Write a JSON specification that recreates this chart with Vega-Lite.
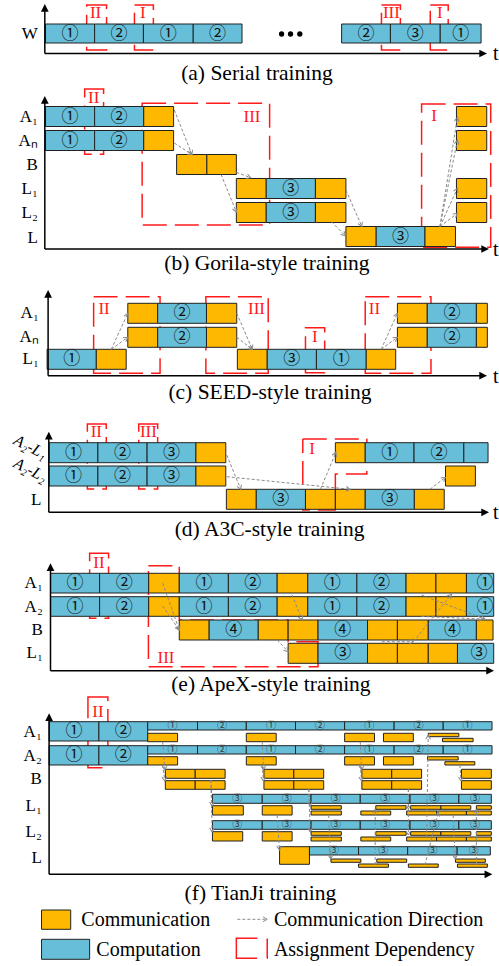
{
  "$schema": "https://vega.github.io/schema/vega-lite/v6.json",
  "width": 499,
  "height": 966,
  "padding": 0,
  "autosize": {"type": "fit", "contains": "padding"},
  "background": "white",
  "config": {"view": {"stroke": null}},
  "datasets": {
    "boxes": [
      {"t":45.7,"t1":95,"y":24,"y1":43,"k":"comp"},{"t":95,"t1":144,"y":24,"y1":43,"k":"comp"},{"t":144,"t1":194,"y":24,"y1":43,"k":"comp"},{"t":194,"t1":243,"y":24,"y1":43,"k":"comp"},{"t":343,"t1":392,"y":24,"y1":43,"k":"comp"},{"t":392,"t1":442,"y":24,"y1":43,"k":"comp"},{"t":442,"t1":483,"y":24,"y1":43,"k":"comp"},

      {"t":45.7,"t1":95,"y":106.5,"y1":126.5,"k":"comp"},{"t":95,"t1":144.3,"y":106.5,"y1":126.5,"k":"comp"},{"t":144.3,"t1":174.3,"y":106.5,"y1":126.5,"k":"comm"},{"t":458.3,"t1":488.7,"y":106.5,"y1":126.5,"k":"comm"},
      {"t":45.7,"t1":95,"y":130.5,"y1":150.5,"k":"comp"},{"t":95,"t1":144.3,"y":130.5,"y1":150.5,"k":"comp"},{"t":144.3,"t1":174.3,"y":130.5,"y1":150.5,"k":"comm"},{"t":458.3,"t1":488.7,"y":130.5,"y1":150.5,"k":"comm"},
      {"t":177.3,"t1":207.7,"y":154.5,"y1":174.5,"k":"comm"},{"t":207.7,"t1":237.3,"y":154.5,"y1":174.5,"k":"comm"},
      {"t":237.3,"t1":267.3,"y":178.5,"y1":198.5,"k":"comm"},{"t":267.3,"t1":316.7,"y":178.5,"y1":198.5,"k":"comp"},{"t":316.7,"t1":347.3,"y":178.5,"y1":198.5,"k":"comm"},{"t":458.3,"t1":488.7,"y":178.5,"y1":198.5,"k":"comm"},
      {"t":237.3,"t1":267.3,"y":202.5,"y1":222.5,"k":"comm"},{"t":267.3,"t1":316.7,"y":202.5,"y1":222.5,"k":"comp"},{"t":316.7,"t1":347.3,"y":202.5,"y1":222.5,"k":"comm"},{"t":458.3,"t1":488.7,"y":202.5,"y1":222.5,"k":"comm"},
      {"t":347.3,"t1":377.7,"y":226.5,"y1":246.5,"k":"comm"},{"t":377.7,"t1":426.7,"y":226.5,"y1":246.5,"k":"comp"},{"t":426.7,"t1":457.3,"y":226.5,"y1":246.5,"k":"comm"},

      {"t":128.3,"t1":158.3,"y":303.3,"y1":323.3,"k":"comm"},{"t":158.3,"t1":207.3,"y":303.3,"y1":323.3,"k":"comp"},{"t":207.3,"t1":237.7,"y":303.3,"y1":323.3,"k":"comm"},{"t":399,"t1":429,"y":303.3,"y1":323.3,"k":"comm"},{"t":429,"t1":478.3,"y":303.3,"y1":323.3,"k":"comp"},{"t":478.3,"t1":489.3,"y":303.3,"y1":323.3,"k":"comm"},
      {"t":128.3,"t1":158.3,"y":327.3,"y1":347.3,"k":"comm"},{"t":158.3,"t1":207.3,"y":327.3,"y1":347.3,"k":"comp"},{"t":207.3,"t1":237.7,"y":327.3,"y1":347.3,"k":"comm"},{"t":399,"t1":429,"y":327.3,"y1":347.3,"k":"comm"},{"t":429,"t1":478.3,"y":327.3,"y1":347.3,"k":"comp"},{"t":478.3,"t1":489.3,"y":327.3,"y1":347.3,"k":"comm"},
      {"t":47.3,"t1":96.7,"y":349.3,"y1":369.3,"k":"comp"},{"t":96.7,"t1":126.7,"y":349.3,"y1":369.3,"k":"comm"},{"t":238.3,"t1":268.3,"y":349.3,"y1":369.3,"k":"comm"},{"t":268.3,"t1":317.7,"y":349.3,"y1":369.3,"k":"comp"},{"t":317.7,"t1":367.7,"y":349.3,"y1":369.3,"k":"comp"},{"t":367.7,"t1":397.3,"y":349.3,"y1":369.3,"k":"comm"},

      {"t":49.3,"t1":98.3,"y":442.7,"y1":462.7,"k":"comp"},{"t":98.3,"t1":147.7,"y":442.7,"y1":462.7,"k":"comp"},{"t":147.7,"t1":196.7,"y":442.7,"y1":462.7,"k":"comp"},{"t":196.7,"t1":226.7,"y":442.7,"y1":462.7,"k":"comm"},{"t":336.7,"t1":366.7,"y":442.7,"y1":462.7,"k":"comm"},{"t":366.7,"t1":415.7,"y":442.7,"y1":462.7,"k":"comp"},{"t":415.7,"t1":465.7,"y":442.7,"y1":462.7,"k":"comp"},{"t":465.7,"t1":490,"y":442.7,"y1":462.7,"k":"comp"},
      {"t":49.3,"t1":98.3,"y":466,"y1":486,"k":"comp"},{"t":98.3,"t1":147.7,"y":466,"y1":486,"k":"comp"},{"t":147.7,"t1":196.7,"y":466,"y1":486,"k":"comp"},{"t":196.7,"t1":226.7,"y":466,"y1":486,"k":"comm"},{"t":447.3,"t1":477.3,"y":466,"y1":486,"k":"comm"},
      {"t":227.3,"t1":257.3,"y":489.3,"y1":509.3,"k":"comm"},{"t":257.3,"t1":306.7,"y":489.3,"y1":509.3,"k":"comp"},{"t":306.7,"t1":336.7,"y":489.3,"y1":509.3,"k":"comm"},{"t":336.7,"t1":366.7,"y":489.3,"y1":509.3,"k":"comm"},{"t":366.7,"t1":416,"y":489.3,"y1":509.3,"k":"comp"},{"t":416,"t1":446,"y":489.3,"y1":509.3,"k":"comm"},

      {"t":50.7,"t1":100,"y":573.3,"y1":593,"k":"comp"},{"t":100,"t1":149.3,"y":573.3,"y1":593,"k":"comp"},{"t":149.3,"t1":180,"y":573.3,"y1":593,"k":"comm"},{"t":180,"t1":229.3,"y":573.3,"y1":593,"k":"comp"},{"t":229.3,"t1":278.3,"y":573.3,"y1":593,"k":"comp"},{"t":278.3,"t1":309,"y":573.3,"y1":593,"k":"comm"},{"t":309,"t1":358.3,"y":573.3,"y1":593,"k":"comp"},{"t":358.3,"t1":407.7,"y":573.3,"y1":593,"k":"comp"},{"t":407.7,"t1":437.7,"y":573.3,"y1":593,"k":"comm"},{"t":437.7,"t1":468.3,"y":573.3,"y1":593,"k":"comm"},{"t":468.3,"t1":495.7,"y":573.3,"y1":593,"k":"comp"},
      {"t":50.7,"t1":100,"y":596.7,"y1":616.3,"k":"comp"},{"t":100,"t1":149.3,"y":596.7,"y1":616.3,"k":"comp"},{"t":149.3,"t1":180,"y":596.7,"y1":616.3,"k":"comm"},{"t":180,"t1":229.3,"y":596.7,"y1":616.3,"k":"comp"},{"t":229.3,"t1":278.3,"y":596.7,"y1":616.3,"k":"comp"},{"t":278.3,"t1":309,"y":596.7,"y1":616.3,"k":"comm"},{"t":309,"t1":358.3,"y":596.7,"y1":616.3,"k":"comp"},{"t":358.3,"t1":407.7,"y":596.7,"y1":616.3,"k":"comp"},{"t":407.7,"t1":437.7,"y":596.7,"y1":616.3,"k":"comm"},{"t":437.7,"t1":468.3,"y":596.7,"y1":616.3,"k":"comm"},{"t":468.3,"t1":495.7,"y":596.7,"y1":616.3,"k":"comp"},
      {"t":180,"t1":210,"y":620,"y1":640,"k":"comm"},{"t":210,"t1":259.3,"y":620,"y1":640,"k":"comp"},{"t":259.3,"t1":289.3,"y":620,"y1":640,"k":"comm"},{"t":289.3,"t1":319.3,"y":620,"y1":640,"k":"comm"},{"t":319.3,"t1":369,"y":620,"y1":640,"k":"comp"},{"t":369,"t1":399,"y":620,"y1":640,"k":"comm"},{"t":399,"t1":430,"y":620,"y1":640,"k":"comm"},{"t":430,"t1":478.3,"y":620,"y1":640,"k":"comp"},{"t":478.3,"t1":495,"y":620,"y1":640,"k":"comm"},
      {"t":289.3,"t1":319.3,"y":643.3,"y1":663.3,"k":"comm"},{"t":319.3,"t1":369,"y":643.3,"y1":663.3,"k":"comp"},{"t":369,"t1":399,"y":643.3,"y1":663.3,"k":"comm"},{"t":399,"t1":430,"y":643.3,"y1":663.3,"k":"comm"},{"t":430,"t1":459.3,"y":643.3,"y1":663.3,"k":"comm"},{"t":459.3,"t1":495.7,"y":643.3,"y1":663.3,"k":"comp"},

      {"t":49.3,"t1":99.3,"y":721.7,"y1":741,"k":"comp"},{"t":99.3,"t1":148.3,"y":721.7,"y1":741,"k":"comp"},
      {"t":49.3,"t1":99.3,"y":745.7,"y1":765,"k":"comp"},{"t":99.3,"t1":148.3,"y":745.7,"y1":765,"k":"comp"},
      {"t":148.3,"t1":198.3,"y":721.7,"y1":730,"k":"comp"},{"t":198.3,"t1":247.3,"y":721.7,"y1":730,"k":"comp"},{"t":247.3,"t1":296.7,"y":721.7,"y1":730,"k":"comp"},{"t":296.7,"t1":346,"y":721.7,"y1":730,"k":"comp"},{"t":346,"t1":395.7,"y":721.7,"y1":730,"k":"comp"},{"t":395.7,"t1":445,"y":721.7,"y1":730,"k":"comp"},{"t":445,"t1":494,"y":721.7,"y1":730,"k":"comp"},
      {"t":148.3,"t1":198.3,"y":745.7,"y1":754,"k":"comp"},{"t":198.3,"t1":247.3,"y":745.7,"y1":754,"k":"comp"},{"t":247.3,"t1":296.7,"y":745.7,"y1":754,"k":"comp"},{"t":296.7,"t1":346,"y":745.7,"y1":754,"k":"comp"},{"t":346,"t1":395.7,"y":745.7,"y1":754,"k":"comp"},{"t":395.7,"t1":445,"y":745.7,"y1":754,"k":"comp"},{"t":445,"t1":494,"y":745.7,"y1":754,"k":"comp"},
      {"t":148.3,"t1":178.3,"y":733.3,"y1":741.7,"k":"comm"},{"t":247.3,"t1":277.3,"y":733.3,"y1":741.7,"k":"comm"},{"t":346,"t1":376,"y":733.3,"y1":741.7,"k":"comm"},{"t":385,"t1":415,"y":733.3,"y1":741.7,"k":"comm"},{"t":430,"t1":460.7,"y":733.3,"y1":736.7,"k":"comm"},{"t":444.3,"t1":475,"y":738.3,"y1":741.7,"k":"comm"},
      {"t":148.3,"t1":178.3,"y":756.7,"y1":765,"k":"comm"},{"t":247.3,"t1":277.3,"y":756.7,"y1":765,"k":"comm"},{"t":346,"t1":376,"y":756.7,"y1":765,"k":"comm"},{"t":385,"t1":415,"y":756.7,"y1":765,"k":"comm"},{"t":429.3,"t1":460,"y":756.7,"y1":760,"k":"comm"},{"t":446.7,"t1":476.7,"y":761.7,"y1":765,"k":"comm"},
      {"t":166,"t1":196,"y":769.3,"y1":778.3,"k":"comm"},{"t":196,"t1":226,"y":769.3,"y1":778.3,"k":"comm"},{"t":265,"t1":295,"y":769.3,"y1":778.3,"k":"comm"},{"t":295,"t1":325,"y":769.3,"y1":778.3,"k":"comm"},{"t":363.3,"t1":393.3,"y":769.3,"y1":778.3,"k":"comm"},{"t":393.3,"t1":423.3,"y":769.3,"y1":778.3,"k":"comm"},{"t":463.3,"t1":493.3,"y":769.3,"y1":778.3,"k":"comm"},
      {"t":166,"t1":196,"y":780.7,"y1":789.3,"k":"comm"},{"t":196,"t1":226,"y":780.7,"y1":789.3,"k":"comm"},{"t":265,"t1":295,"y":780.7,"y1":789.3,"k":"comm"},{"t":295,"t1":325,"y":780.7,"y1":789.3,"k":"comm"},{"t":363.3,"t1":393.3,"y":780.7,"y1":789.3,"k":"comm"},{"t":393.3,"t1":423.3,"y":780.7,"y1":789.3,"k":"comm"},{"t":463.3,"t1":493.3,"y":780.7,"y1":789.3,"k":"comm"},
      {"t":213.3,"t1":263.3,"y":794.3,"y1":803.3,"k":"comp"},{"t":263.3,"t1":312.3,"y":794.3,"y1":803.3,"k":"comp"},{"t":312.3,"t1":361.7,"y":794.3,"y1":803.3,"k":"comp"},{"t":361.7,"t1":411.7,"y":794.3,"y1":803.3,"k":"comp"},{"t":411.7,"t1":460.7,"y":794.3,"y1":803.3,"k":"comp"},{"t":460.7,"t1":493.3,"y":794.3,"y1":803.3,"k":"comp"},
      {"t":213.3,"t1":244.3,"y":805.7,"y1":815,"k":"comm"},{"t":263.3,"t1":293.3,"y":805.7,"y1":815,"k":"comm"},
      {"t":312.3,"t1":342.7,"y":805.7,"y1":809.3,"k":"comm"},{"t":377.3,"t1":407.7,"y":805.7,"y1":809.3,"k":"comm"},{"t":412.3,"t1":442.7,"y":805.7,"y1":809.3,"k":"comm"},{"t":442.7,"t1":472.7,"y":805.7,"y1":809.3,"k":"comm"},{"t":478.3,"t1":493.3,"y":805.7,"y1":809.3,"k":"comm"},
      {"t":312.3,"t1":342.7,"y":811,"y1":815,"k":"comm"},{"t":362.3,"t1":392.3,"y":811,"y1":815,"k":"comm"},{"t":408.3,"t1":438.3,"y":811,"y1":815,"k":"comm"},{"t":438.3,"t1":468.3,"y":811,"y1":815,"k":"comm"},{"t":468.3,"t1":493.3,"y":811,"y1":815,"k":"comm"},
      {"t":213.3,"t1":263.3,"y":820.7,"y1":829.3,"k":"comp"},{"t":263.3,"t1":312.3,"y":820.7,"y1":829.3,"k":"comp"},{"t":312.3,"t1":361.7,"y":820.7,"y1":829.3,"k":"comp"},{"t":361.7,"t1":411.7,"y":820.7,"y1":829.3,"k":"comp"},{"t":411.7,"t1":460.7,"y":820.7,"y1":829.3,"k":"comp"},{"t":460.7,"t1":493.3,"y":820.7,"y1":829.3,"k":"comp"},
      {"t":213.3,"t1":243.7,"y":831.7,"y1":841,"k":"comm"},{"t":263.3,"t1":293.3,"y":831.7,"y1":841,"k":"comm"},
      {"t":312.3,"t1":342.7,"y":831.7,"y1":835.3,"k":"comm"},{"t":377.3,"t1":407.7,"y":831.7,"y1":835.3,"k":"comm"},{"t":412.3,"t1":442.7,"y":831.7,"y1":835.3,"k":"comm"},{"t":442.7,"t1":472.7,"y":831.7,"y1":835.3,"k":"comm"},{"t":478.3,"t1":493.3,"y":831.7,"y1":835.3,"k":"comm"},
      {"t":312.3,"t1":342.7,"y":837,"y1":841,"k":"comm"},{"t":362.3,"t1":392.3,"y":837,"y1":841,"k":"comm"},{"t":408.3,"t1":438.3,"y":837,"y1":841,"k":"comm"},{"t":438.3,"t1":468.3,"y":837,"y1":841,"k":"comm"},{"t":468.3,"t1":493.3,"y":837,"y1":841,"k":"comm"},
      {"t":280.7,"t1":310.7,"y":846.7,"y1":864.3,"k":"comm"},
      {"t":310.7,"t1":360,"y":846.7,"y1":855,"k":"comp"},{"t":360,"t1":409.3,"y":846.7,"y1":855,"k":"comp"},{"t":409.3,"t1":459,"y":846.7,"y1":855,"k":"comp"},{"t":459,"t1":492.3,"y":846.7,"y1":855,"k":"comp"},
      {"t":332.3,"t1":362.3,"y":859,"y1":862.3,"k":"comm"},{"t":378.3,"t1":408.3,"y":859,"y1":862.3,"k":"comm"},{"t":457.3,"t1":487.3,"y":859,"y1":862.3,"k":"comm"},
      {"t":360,"t1":390,"y":864,"y1":867.3,"k":"comm"},{"t":410,"t1":440,"y":864,"y1":867.3,"k":"comm"},{"t":459.3,"t1":489.3,"y":864,"y1":867.3,"k":"comm"},

      {"t":41.7,"t1":71,"y":910,"y1":929.3,"k":"comm"},
      {"t":41.7,"t1":90,"y":939.3,"y1":959.3,"k":"comp"}
    ],
    "nums": [
      {"t":70.3,"y":33.5,"s":"①"},{"t":119.5,"y":33.5,"s":"②"},{"t":169,"y":33.5,"s":"①"},{"t":218.5,"y":33.5,"s":"②"},{"t":367.5,"y":33.5,"s":"②"},{"t":417,"y":33.5,"s":"③"},{"t":462.5,"y":33.5,"s":"①"},
      {"t":70.3,"y":116.5,"s":"①"},{"t":119.6,"y":116.5,"s":"②"},{"t":70.3,"y":140.5,"s":"①"},{"t":119.6,"y":140.5,"s":"②"},{"t":292,"y":188.5,"s":"③"},{"t":292,"y":212.5,"s":"③"},{"t":402.2,"y":236.5,"s":"③"},
      {"t":72,"y":359.3,"s":"①"},{"t":293,"y":359.3,"s":"③"},{"t":342.7,"y":359.3,"s":"①"},{"t":182.8,"y":313.3,"s":"②"},{"t":182.8,"y":337.3,"s":"②"},{"t":453.7,"y":313.3,"s":"②"},{"t":453.7,"y":337.3,"s":"②"},
      {"t":73.8,"y":452.7,"s":"①"},{"t":123,"y":452.7,"s":"②"},{"t":172.2,"y":452.7,"s":"③"},{"t":391.2,"y":452.7,"s":"①"},{"t":440.7,"y":452.7,"s":"②"},{"t":73.8,"y":476,"s":"①"},{"t":123,"y":476,"s":"②"},{"t":172.2,"y":476,"s":"③"},{"t":282,"y":499.3,"s":"③"},{"t":391.3,"y":499.3,"s":"③"},
      {"t":75.3,"y":583.2,"s":"①"},{"t":124.7,"y":583.2,"s":"②"},{"t":204.7,"y":583.2,"s":"①"},{"t":253.8,"y":583.2,"s":"②"},{"t":333.7,"y":583.2,"s":"①"},{"t":383,"y":583.2,"s":"②"},{"t":487,"y":583.2,"s":"①"},
      {"t":75.3,"y":606.5,"s":"①"},{"t":124.7,"y":606.5,"s":"②"},{"t":204.7,"y":606.5,"s":"①"},{"t":253.8,"y":606.5,"s":"②"},{"t":333.7,"y":606.5,"s":"①"},{"t":383,"y":606.5,"s":"②"},{"t":487,"y":606.5,"s":"①"},
      {"t":234.7,"y":630,"s":"④"},{"t":344.2,"y":630,"s":"④"},{"t":454.2,"y":630,"s":"④"},{"t":344.2,"y":653.3,"s":"③"},{"t":481,"y":653.3,"s":"③"},
      {"t":74.3,"y":731.3,"s":"①"},{"t":123.8,"y":731.3,"s":"②"},{"t":74.3,"y":755.3,"s":"①"},{"t":123.8,"y":755.3,"s":"②"}
    ],
    "smallnums": [
      {"t":173.3,"y":725.9,"s":"①"},{"t":222.8,"y":725.9,"s":"②"},{"t":272,"y":725.9,"s":"①"},{"t":321.3,"y":725.9,"s":"②"},{"t":370.8,"y":725.9,"s":"①"},{"t":420.3,"y":725.9,"s":"②"},{"t":469.5,"y":725.9,"s":"①"},
      {"t":173.3,"y":749.9,"s":"①"},{"t":222.8,"y":749.9,"s":"②"},{"t":272,"y":749.9,"s":"①"},{"t":321.3,"y":749.9,"s":"②"},{"t":370.8,"y":749.9,"s":"①"},{"t":420.3,"y":749.9,"s":"②"},{"t":469.5,"y":749.9,"s":"①"},
      {"t":238.3,"y":798.8,"s":"③"},{"t":287.8,"y":798.8,"s":"③"},{"t":337,"y":798.8,"s":"③"},{"t":386.7,"y":798.8,"s":"③"},{"t":436.2,"y":798.8,"s":"③"},{"t":477,"y":798.8,"s":"③"},
      {"t":238.3,"y":825,"s":"③"},{"t":287.8,"y":825,"s":"③"},{"t":337,"y":825,"s":"③"},{"t":386.7,"y":825,"s":"③"},{"t":436.2,"y":825,"s":"③"},{"t":477,"y":825,"s":"③"},
      {"t":335.3,"y":850.9,"s":"③"},{"t":384.7,"y":850.9,"s":"③"},{"t":434.2,"y":850.9,"s":"③"},{"t":475.7,"y":850.9,"s":"③"}
    ],
    "lanes": [
      {"t":38,"y":33.5,"s":"W"},
      {"t":38,"y":116.5,"s":"A₁"},{"t":38,"y":140.5,"s":"Aₙ"},{"t":38,"y":164.5,"s":"B"},{"t":38,"y":188.5,"s":"L₁"},{"t":38,"y":212.5,"s":"L₂"},{"t":38,"y":238,"s":"L"},
      {"t":39,"y":313.3,"s":"A₁"},{"t":39,"y":337.3,"s":"Aₙ"},{"t":39,"y":359.3,"s":"L₁"},
      {"t":41.5,"y":500,"s":"L"},
      {"t":43,"y":583.3,"s":"A₁"},{"t":43,"y":606.5,"s":"A₂"},{"t":43,"y":630,"s":"B"},{"t":43,"y":653.3,"s":"L₁"},
      {"t":42,"y":732,"s":"A₁"},{"t":42,"y":755.5,"s":"A₂"},{"t":42,"y":779,"s":"B"},{"t":42,"y":806,"s":"L₁"},{"t":42,"y":832,"s":"L₂"},{"t":42,"y":858,"s":"L"}
    ],
    "slanted": [
      {"t":30.5,"y":447,"s":"A₂-L₁"},{"t":30.5,"y":470,"s":"A₂-L₂"}
    ],
    "roman": [
      {"t":96,"y":13.3,"s":"II"},{"t":143.5,"y":13.3,"s":"I"},{"t":393,"y":13.3,"s":"III"},{"t":441.5,"y":13.3,"s":"I"},
      {"t":94,"y":98,"s":"II"},{"t":253,"y":117,"s":"III"},{"t":435.7,"y":116,"s":"I"},
      {"t":104.5,"y":309.3,"s":"II"},{"t":257.5,"y":309.3,"s":"III"},{"t":316,"y":337.3,"s":"I"},{"t":376,"y":309.3,"s":"II"},
      {"t":96.7,"y":431.5,"s":"II"},{"t":149,"y":431.5,"s":"III"},{"t":313.3,"y":449.3,"s":"I"},
      {"t":99.3,"y":563.3,"s":"II"},{"t":166.7,"y":658.3,"s":"III"},
      {"t":98.3,"y":712,"s":"II"}
    ],
    "deps": [
      {"t":87,"t1":107,"y":5,"y1":50},{"t":135,"t1":154,"y":5,"y1":50},{"t":383,"t1":402,"y":5,"y1":50},{"t":432,"t1":450,"y":5,"y1":50},
      {"t":85,"t1":104,"y":89,"y1":154.3},{"t":142.7,"t1":270.7,"y":103.3,"y1":225},{"t":423.3,"t1":492.7,"y":104,"y1":247.3},
      {"t":94,"t1":160.7,"y":296.7,"y1":373.3},{"t":206.7,"t1":269.3,"y":296.7,"y1":373.3},{"t":306.7,"t1":326,"y":327.7,"y1":372.7},{"t":366.7,"t1":432.7,"y":296.7,"y1":373.3},
      {"t":87.7,"t1":106.7,"y":424,"y1":489},{"t":139.3,"t1":158.3,"y":424,"y1":489},
      {"t":90,"t1":109,"y":553.3,"y1":618.3},
      {"t":88.3,"t1":108.3,"y":697,"y1":767.7}
    ],
    "depPaths": [
      {"g":"d","o":1,"t":304,"y":439},{"g":"d","o":2,"t":368.3,"y":439},{"g":"d","o":3,"t":368.3,"y":474},{"g":"d","o":4,"t":336.7,"y":474},{"g":"d","o":5,"t":336.7,"y":510},{"g":"d","o":6,"t":304,"y":510},{"g":"d","o":7,"t":304,"y":439},
      {"g":"e","o":1,"t":149,"y":565.7},{"g":"e","o":2,"t":180,"y":565.7},{"g":"e","o":3,"t":180,"y":620},{"g":"e","o":4,"t":289.3,"y":620},{"g":"e","o":5,"t":289.3,"y":641.7},{"g":"e","o":6,"t":319.3,"y":641.7},{"g":"e","o":7,"t":319.3,"y":666.7},{"g":"e","o":8,"t":149,"y":666.7},{"g":"e","o":9,"t":149,"y":565.7}
    ],
    "depIcon": [{"t":237.3,"t1":268.3,"y":938.3,"y1":958.3}],
    "flows": [
      {"t":175,"y":110,"t1":192.7,"y1":154.5},{"t":175,"y":143,"t1":192.7,"y1":154.5},{"t":237.3,"y":172.3,"t1":251.7,"y1":177.7},{"t":222,"y":174.5,"t1":237.3,"y1":212},
      {"t":347.3,"y":190,"t1":363.3,"y1":226.5},{"t":332.7,"y":221.7,"t1":346.7,"y1":235.7},
      {"t":441.7,"y":226.5,"t1":459.3,"y1":117.3},{"t":441.7,"y":226.5,"t1":459.3,"y1":140},{"t":441.7,"y":226.5,"t1":459.3,"y1":188.3},{"t":441.7,"y":226.5,"t1":459.3,"y1":213.3},
      {"t":111.7,"y":349.3,"t1":128.3,"y1":313.3},{"t":111.7,"y":349.3,"t1":128.3,"y1":337.3},{"t":237.7,"y":313.3,"t1":253.3,"y1":349.3},{"t":237.7,"y":337.3,"t1":253.3,"y1":349.3},{"t":382.7,"y":349.3,"t1":399,"y1":313.3},{"t":382.7,"y":349.3,"t1":399,"y1":337.3},
      {"t":227.7,"y":455,"t1":241.7,"y1":489.3},{"t":227.7,"y":476.7,"t1":351.7,"y1":489.3},{"t":321.7,"y":489.3,"t1":337.3,"y1":452.3},{"t":431.7,"y":489.3,"t1":447.3,"y1":477.3},
      {"t":163.3,"y":583.3,"t1":180,"y1":630},{"t":163.3,"y":606,"t1":180,"y1":630},{"t":293.3,"y":595,"t1":303.3,"y1":620},{"t":278.3,"y":640,"t1":289.3,"y1":651.7},
      {"t":383.3,"y":641.7,"t1":415,"y1":641.7},{"t":415,"y":641.7,"t1":453.3,"y1":594.3},{"t":423.3,"y":595,"t1":486.7,"y1":619},{"t":423.3,"y":616.5,"t1":485,"y1":619},
      {"t":163.3,"y":741.7,"t1":165.5,"y1":770},{"t":163.3,"y":765,"t1":165.5,"y1":781},{"t":211.7,"y":780,"t1":213,"y1":806},{"t":211.7,"y":780,"t1":213,"y1":832},
      {"t":263.3,"y":741.7,"t1":264.5,"y1":770},{"t":263.3,"y":765,"t1":264.5,"y1":781},{"t":278.3,"y":815,"t1":280.5,"y1":850},
      {"t":310,"y":789,"t1":311.5,"y1":806},{"t":310,"y":789,"t1":311.5,"y1":832},
      {"t":361.7,"y":741.7,"t1":363,"y1":770},{"t":361.7,"y":765,"t1":363,"y1":781},{"t":330,"y":815,"t1":332,"y1":859},
      {"t":376.7,"y":865,"t1":376.7,"y1":809},{"t":410,"y":789,"t1":410,"y1":809},{"t":410,"y":789,"t1":410,"y1":835},
      {"t":428.3,"y":837,"t1":430,"y1":735},{"t":461.7,"y":765,"t1":463,"y1":781},{"t":478.3,"y":865,"t1":478.3,"y1":809},
      {"t":426.7,"y":865,"t1":440,"y1":812},{"t":455,"y":815,"t1":457,"y1":859},
      {"t":238.3,"y":919.3,"t1":268.3,"y1":919.3}
    ],
    "axes": [
      {"t":45,"y":8,"t1":45,"y1":53.5},{"t":45,"y":53.5,"t1":486,"y1":53.5},
      {"t":45,"y":100,"t1":45,"y1":249},{"t":45,"y":249,"t1":488,"y1":249},
      {"t":48.3,"y":293,"t1":48.3,"y1":375.7},{"t":48.3,"y":375.7,"t1":486,"y1":375.7},
      {"t":49,"y":435,"t1":49,"y1":512.3},{"t":49,"y":512.3,"t1":488,"y1":512.3},
      {"t":50.7,"y":566,"t1":50.7,"y1":670.7},{"t":50.7,"y":670.7,"t1":493,"y1":670.7},
      {"t":49.3,"y":716,"t1":49.3,"y1":874.3},{"t":49.3,"y":874.3,"t1":491,"y1":874.3}
    ],
    "headsUp": [
      {"t":45,"y":4},{"t":45,"y":96},{"t":48.3,"y":290},{"t":49,"y":431.7},{"t":50.7,"y":563.3},{"t":49.3,"y":713.3}
    ],
    "headsRight": [
      {"t":489,"y":53.5},{"t":491,"y":249},{"t":489,"y":375.7},{"t":491,"y":512.3},{"t":496,"y":670.7},{"t":494.3,"y":874.3}
    ],
    "tlabels": [
      {"t":495,"y":54,"s":"t"},{"t":495,"y":250,"s":"t"},{"t":495,"y":376.5,"s":"t"},{"t":495,"y":513,"s":"t"}
    ],
    "dots": [{"t":282.7,"y":34},{"t":291.7,"y":34},{"t":301,"y":34}],
    "captions": [
      {"t":258,"y":74,"s":"(a) Serial training"},{"t":268,"y":264,"s":"(b) Gorila-style training"},{"t":271,"y":393,"s":"(c) SEED-style training"},
      {"t":270.7,"y":530,"s":"(d) A3C-style training"},{"t":272,"y":685,"s":"(e) ApeX-style training"},{"t":261.5,"y":893.7,"s":"(f) TianJi training"}
    ],
    "legendText": [
      {"t":81.7,"y":920,"s":"Communication"},{"t":96.7,"y":950,"s":"Computation"},{"t":275,"y":920,"s":"Communication Direction"},{"t":275,"y":950,"s":"Assignment Dependency"}
    ]
  },
  "encoding": {
    "x": {"field": "t", "type": "quantitative", "scale": {"domain": [0, 499], "nice": false, "zero": false}, "axis": null},
    "y": {"field": "y", "type": "quantitative", "scale": {"domain": [0, 966], "nice": false, "zero": false, "reverse": true}, "axis": null}
  },
  "layer": [
    {
      "data": {"name": "deps"},
      "mark": {"type": "rect", "fill": null, "fillOpacity": 0, "stroke": "#FF1A1A", "strokeWidth": 1.5, "strokeDash": [24, 8]},
      "encoding": {"x2": {"field": "t1"}, "y2": {"field": "y1"}}
    },
    {
      "data": {"name": "depPaths"},
      "mark": {"type": "line", "color": "#FF1A1A", "strokeWidth": 1.5, "strokeDash": [24, 8]},
      "encoding": {"order": {"field": "o", "type": "quantitative"}, "detail": {"field": "g", "type": "nominal"}}
    },
    {
      "data": {"name": "depIcon"},
      "mark": {"type": "rect", "fill": null, "fillOpacity": 0, "stroke": "#FF1A1A", "strokeWidth": 1.5, "strokeDash": [21, 10, 20, 10, 41, 0]},
      "encoding": {"x2": {"field": "t1"}, "y2": {"field": "y1"}}
    },
    {
      "data": {"name": "boxes"},
      "mark": {"type": "rect", "stroke": "#222222", "strokeWidth": 1},
      "encoding": {
        "x2": {"field": "t1"}, "y2": {"field": "y1"},
        "fill": {"field": "k", "type": "nominal", "scale": {"domain": ["comm", "comp"], "range": ["#FFB800", "#66BED8"]}, "legend": null}
      }
    },
    {
      "data": {"name": "nums"},
      "mark": {"type": "text", "font": "Noto Sans CJK SC", "fontSize": 17, "color": "#111111", "align": "center", "baseline": "middle"},
      "encoding": {"text": {"field": "s"}}
    },
    {
      "data": {"name": "smallnums"},
      "mark": {"type": "text", "font": "Noto Sans CJK SC", "fontSize": 10, "color": "#333333", "align": "center", "baseline": "middle"},
      "encoding": {"text": {"field": "s"}}
    },
    {
      "data": {"name": "flows"},
      "mark": {"type": "rule", "color": "#8a8a8a", "strokeWidth": 1, "strokeDash": [3, 2]},
      "encoding": {"x2": {"field": "t1"}, "y2": {"field": "y1"}}
    },
    {
      "data": {"name": "flows"},
      "transform": [{"calculate": "atan2(datum.y1 - datum.y, datum.t1 - datum.t) * 180 / PI", "as": "ang"}],
      "mark": {"type": "point", "filled": false, "stroke": "#8a8a8a", "strokeWidth": 1, "opacity": 1, "size": 36, "shape": "M-1.4,-0.8L0,0L-1.4,0.8"},
      "encoding": {
        "x": {"field": "t1", "type": "quantitative", "scale": {"domain": [0, 499], "nice": false, "zero": false}, "axis": null},
        "y": {"field": "y1", "type": "quantitative", "scale": {"domain": [0, 966], "nice": false, "zero": false, "reverse": true}, "axis": null},
        "angle": {"field": "ang", "type": "quantitative", "scale": null}
      }
    },
    {
      "data": {"name": "axes"},
      "mark": {"type": "rule", "color": "#000000", "strokeWidth": 1.5},
      "encoding": {"x2": {"field": "t1"}, "y2": {"field": "y1"}}
    },
    {
      "data": {"name": "headsUp"},
      "mark": {"type": "point", "filled": true, "color": "#000000", "opacity": 1, "size": 60, "shape": "M0,0L-1,2L1,2Z"}
    },
    {
      "data": {"name": "headsRight"},
      "mark": {"type": "point", "filled": true, "color": "#000000", "opacity": 1, "size": 60, "shape": "M0,0L-2,-1L-2,1Z"}
    },
    {
      "data": {"name": "dots"},
      "mark": {"type": "point", "filled": true, "color": "#000000", "opacity": 1, "size": 28, "shape": "circle"}
    },
    {
      "data": {"name": "tlabels"},
      "mark": {"type": "text", "font": "Liberation Serif", "fontSize": 20, "color": "#000000", "align": "left", "baseline": "middle"},
      "encoding": {"text": {"field": "s"}}
    },
    {
      "data": {"name": "lanes"},
      "mark": {"type": "text", "font": "Liberation Serif", "fontSize": 17, "color": "#000000", "align": "right", "baseline": "middle"},
      "encoding": {"text": {"field": "s"}}
    },
    {
      "data": {"name": "slanted"},
      "mark": {"type": "text", "font": "Liberation Serif", "fontStyle": "italic", "fontSize": 16, "color": "#000000", "align": "center", "baseline": "middle", "angle": 27},
      "encoding": {"text": {"field": "s"}}
    },
    {
      "data": {"name": "roman"},
      "mark": {"type": "text", "font": "Liberation Serif", "fontSize": 17, "color": "#FF1A1A", "align": "center", "baseline": "middle"},
      "encoding": {"text": {"field": "s"}}
    },
    {
      "data": {"name": "captions"},
      "mark": {"type": "text", "font": "Liberation Serif", "fontSize": 21.5, "color": "#000000", "align": "center", "baseline": "middle"},
      "encoding": {"text": {"field": "s"}}
    },
    {
      "data": {"name": "legendText"},
      "mark": {"type": "text", "font": "Liberation Serif", "fontSize": 20, "color": "#000000", "align": "left", "baseline": "middle"},
      "encoding": {"text": {"field": "s"}}
    }
  ]
}
